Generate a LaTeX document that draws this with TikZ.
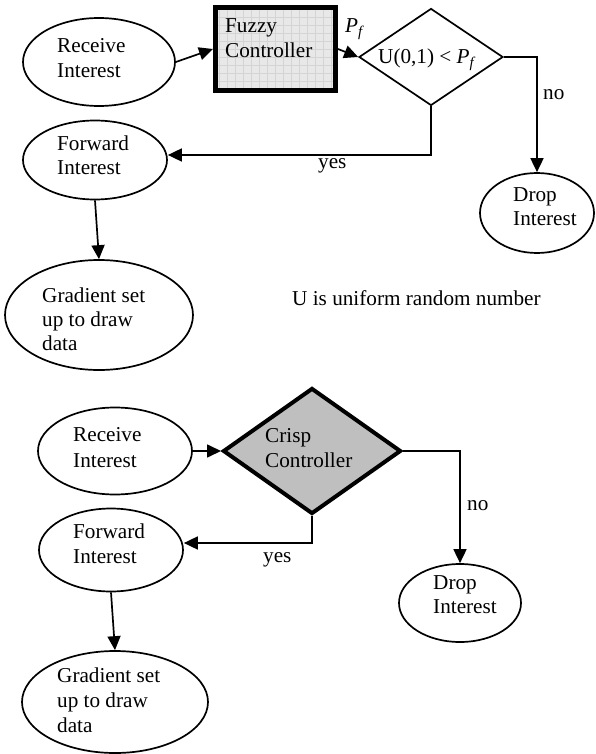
\documentclass[tikz,border=0pt]{standalone}
\usepackage{fontspec}
\setmainfont{Liberation Serif}
\usetikzlibrary{shapes.geometric,arrows.meta,calc}
\begin{document}
\begin{tikzpicture}[x=1pt,y=-1pt,
  ell/.style={ellipse,draw,line width=1.7pt,inner sep=0pt},
  arr/.style={line width=1.7pt,-{Triangle[length=14pt,width=13pt]}},
  txt/.style={anchor=base west,inner sep=0pt,font=\fontsize{21.2}{25}\selectfont},
  fuzzybox/.style={rectangle,draw,line width=5pt,fill=black!9,inner sep=0pt,
    path picture={\draw[black!17,line width=0.5pt]
      (path picture bounding box.south west) grid[step=8pt]
      (path picture bounding box.north east);}},
  decision/.style={diamond,draw,line width=1.7pt,inner sep=0pt}
]
\useasboundingbox (0,0) rectangle (596,754);

% ---------- top flowchart ----------
\node[ell,minimum width=152pt,minimum height=88pt] (rec1) at (99,62) {};
\node[fuzzybox,minimum width=120pt,minimum height=83pt] (fuzzy) at (275.5,49) {};
\node[decision,minimum width=144pt,minimum height=97pt] (dia1) at (431,57) {};
\node[ell,minimum width=114pt,minimum height=80pt] (drop1) at (537,213) {};
\node[ell,minimum width=144pt,minimum height=79pt] (fwd1) at (95,160) {};
\node[ell,minimum width=188pt,minimum height=110pt] (grad1) at (99,315) {};

\node[txt] (t1a) at (57,53) {Receive};
\node[txt] (t1b) at (57,78) {Interest};
\node[txt] (t2a) at (225,33) {Fuzzy};
\node[txt] (t2b) at (225,58) {Controller};
\node[txt] (t3) at (345,33) {\textit{P}\textsubscript{\textit{f}}};
\node[txt] (t4) at (378,64) {U(0,1) < \textit{P}\textsubscript{\textit{f}}};
\node[txt] (t5) at (543,100) {no};
\node[txt] (t6) at (318,168) {yes};
\node[txt] (t7a) at (513,201) {Drop};
\node[txt] (t7b) at (513,225) {Interest};
\node[txt] (t8a) at (57,150) {Forward};
\node[txt] (t8b) at (57,175) {Interest};
\node[txt] (t9a) at (42,302) {Gradient set};
\node[txt] (t9b) at (42,326) {up to draw};
\node[txt] (t9c) at (42,350) {data};
\node[txt] (t10) at (292,305) {U is uniform random number};

\draw[arr] (rec1.east) -- (fuzzy.west);
\draw[arr] (fuzzy.east) -- (dia1.west);
\draw[arr] (dia1.east) -| (drop1.north);
\draw[arr] (dia1.south) |- ($(fwd1.east)+(0,-5)$);
\draw[arr] (fwd1.south) -- (grad1.north);

% ---------- bottom flowchart ----------
\node[ell,minimum width=154pt,minimum height=87pt] (rec2) at (115,451) {};
\node[decision,line width=4pt,fill=black!25,minimum width=178pt,minimum height=126pt] (crisp) at (312,451) {};
\node[ell,minimum width=144pt,minimum height=83pt] (fwd2) at (111,550) {};
\node[ell,minimum width=186pt,minimum height=102pt] (grad2) at (115,702) {};
\node[ell,minimum width=122pt,minimum height=78pt] (drop2) at (460,603) {};

\node[txt] (s1a) at (73,441) {Receive};
\node[txt] (s1b) at (73,467) {Interest};
\node[txt] (s2a) at (265,442) {Crisp};
\node[txt] (s2b) at (265,467) {Controller};
\node[txt] (s3) at (467,510) {no};
\node[txt] (s4) at (263,562) {yes};
\node[txt] (s5a) at (433,589) {Drop};
\node[txt] (s5b) at (433,613) {Interest};
\node[txt] (s6a) at (73,538) {Forward};
\node[txt] (s6b) at (73,563) {Interest};
\node[txt] (s7a) at (57,682) {Gradient set};
\node[txt] (s7b) at (57,707) {up to draw};
\node[txt] (s7c) at (57,732) {data};

\draw[arr] (rec2.east) -- (crisp.west);
\draw[arr] (crisp.east) -| (drop2.north);
\draw[arr] (crisp.south) |- ($(fwd2.east)+(0,-7)$);
\draw[arr] (fwd2.south) -- (grad2.north);
\end{tikzpicture}
\end{document}
